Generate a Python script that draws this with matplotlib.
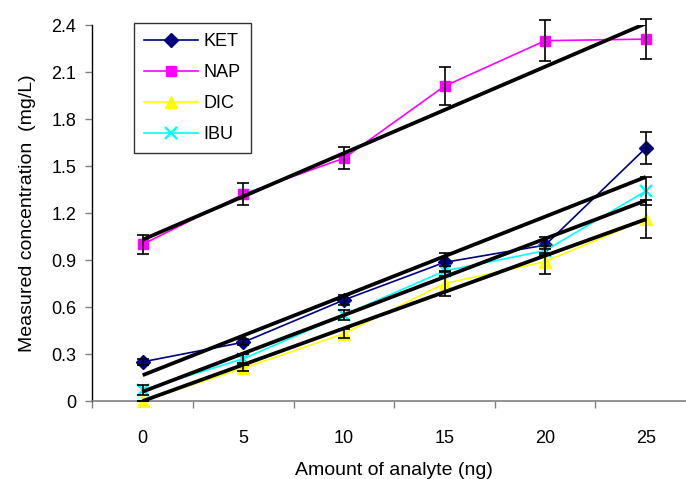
import matplotlib
matplotlib.use("Agg")
import matplotlib.pyplot as plt
import numpy as np

plt.rcParams['font.family'] = ['Liberation Sans', 'DejaVu Sans']

# Amount of analyte (ng), plotted as evenly spaced categories
amounts = ["0", "5", "10", "15", "20", "25"]

ket = [0.25, 0.375, 0.645, 0.885, 0.995, 1.615]
nap = [1.00, 1.32, 1.55, 2.01, 2.30, 2.31]
dic = [0.00, 0.21, 0.43, 0.75, 0.89, 1.16]
ibu = [0.07, 0.27, 0.55, 0.83, 0.96, 1.34]

ket_err = [0.02, 0.02, 0.03, 0.06, 0.05, 0.10]
nap_err = [0.06, 0.07, 0.07, 0.12, 0.13, 0.13]
dic_err = [0.00, 0.02, 0.03, 0.08, 0.08, 0.12]
ibu_err = [0.03, 0.03, 0.03, 0.03, 0.03, 0.09]

# Linear trend lines: value at the first and last category
trend_start = {"KET": 0.165, "NAP": 1.03, "DIC": 0.00, "IBU": 0.06}
trend_end = {"KET": 1.43, "NAP": 2.41, "DIC": 1.16, "IBU": 1.28}

yticks = [0, 0.3, 0.6, 0.9, 1.2, 1.5, 1.8, 2.1, 2.4]
ytick_labels = ["0", "0.3", "0.6", "0.9", "1.2", "1.5", "1.8", "2.1", "2.4"]

fig = plt.figure(figsize=(6.86, 4.79), dpi=100)
ax = fig.add_axes([0.1347, 0.1628, 0.880, 0.785])

x = np.arange(len(amounts))

series = [
    ("KET", ket, ket_err, dict(color="#000080", marker="D", ms=7.5, mec="#000080", mfc="#000080")),
    ("NAP", nap, nap_err, dict(color="#FF00FF", marker="s", ms=7.5, mec="#FF00FF", mfc="#FF00FF")),
    ("DIC", dic, dic_err, dict(color="#FFFF00", marker="^", ms=9, mec="#FFFF00", mfc="#FFFF00")),
    ("IBU", ibu, ibu_err, dict(color="#00FFFF", marker="x", ms=9, mew=1.7)),
]

handles = []
for name, vals, err, style in series:
    h, = ax.plot(x, vals, lw=1.2, label=name, zorder=3, clip_on=False, **style)
    handles.append(h)

for name, vals, err, style in series:
    ax.errorbar(x, vals, yerr=err, fmt="none", ecolor="black", elinewidth=1.2,
                capsize=4.5, capthick=1.2, zorder=4, clip_on=False)

for name in ["NAP", "KET", "IBU", "DIC"]:
    ax.plot([x[0], x[-1]], [trend_start[name], trend_end[name]],
            color="black", lw=2.7, zorder=5, solid_capstyle="butt")

ax.set_xlim(-0.5, len(amounts) - 0.5)
ax.set_ylim(0, 2.4)

ax.set_xticks(x)
ax.set_xticklabels(amounts)
ax.set_xticks(np.arange(-0.5, len(amounts), 1.0), minor=True)
ax.tick_params(axis="x", which="major", length=0, pad=21, labelsize=13)
ax.tick_params(axis="x", which="minor", length=5, width=1, color="#808080", direction="out")

ax.set_yticks(yticks)
ax.set_yticklabels(ytick_labels)
ax.tick_params(axis="y", length=5, width=1, direction="out", pad=6.5, labelsize=13, color="#808080")

for side in ["top", "right"]:
    ax.spines[side].set_visible(False)
ax.spines["left"].set_color("black")
ax.spines["bottom"].set_color("#808080")
ax.spines["left"].set_linewidth(1)
ax.spines["bottom"].set_linewidth(1.2)

ax.set_xlabel("Amount of analyte (ng)", fontsize=14, labelpad=11)
ax.set_ylabel("Measured concentration  (mg/L)", fontsize=14, labelpad=11)

leg = fig.legend(handles=handles, loc="upper left", bbox_to_anchor=(134 / 686, 1 - 23 / 479),
                 fontsize=13, frameon=True, fancybox=False, edgecolor="black",
                 handlelength=3.0, handletextpad=0.3, labelspacing=0.78, borderpad=0.55,
                 borderaxespad=0)
leg.get_frame().set_linewidth(1.0)

fig.savefig("out.png", dpi=100)
